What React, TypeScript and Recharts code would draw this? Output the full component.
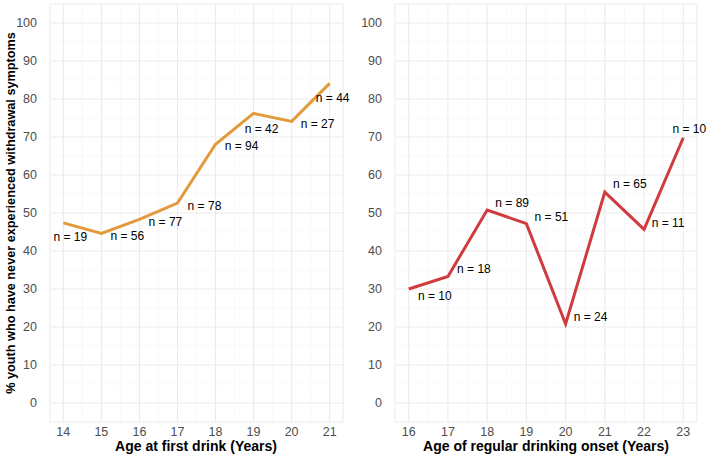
import { LineChart, Line, XAxis, YAxis, CartesianGrid, ReferenceLine, LabelList } from 'recharts'

const ageFirstDrink = [14, 15, 16, 17, 18, 19, 20, 21]
const pctFirstDrink = [47.4, 44.6, 48.3, 52.6, 68.1, 76.2, 74.1, 84.1]
const nFirstDrink = [19, 56, 77, 78, 94, 42, 27, 44]

const ageRegularOnset = [16, 17, 18, 19, 20, 21, 22, 23]
const pctRegularOnset = [30.0, 33.3, 50.8, 47.2, 20.8, 55.5, 45.7, 69.8]
const nRegularOnset = [10, 18, 89, 51, 24, 65, 11, 10]

const yTicks = [0, 10, 20, 30, 40, 50, 60, 70, 80, 90, 100]
const yMinor = [-5, 5, 15, 25, 35, 45, 55, 65, 75, 85, 95, 105]

// label nudges (dx, dy) from each point, repelled labels in the original
const firstNudge = [[7, 14], [26, 2], [26, 3], [27, 3], [26, 2], [8, 16], [26, 3], [3, 15]]
const regularNudge = [[26, 7], [26, -7], [25, -7], [25, -7], [25, -7], [25, -8], [24, -6], [6, -9]]

const FONT = '"Liberation Sans", Arial, Helvetica, sans-serif'
const tickStyle = { fontSize: 12.5, fill: '#4d4d4d', fontFamily: FONT }

const firstData = ageFirstDrink.map((age, i) => ({ age, pct: pctFirstDrink[i], n: nFirstDrink[i] }))
const regularData = ageRegularOnset.map((age, i) => ({ age, pct: pctRegularOnset[i], n: nRegularOnset[i] }))

function nLabel(nudge: number[][]) {
  return (props: any) => {
    const { x, y, index, value } = props
    const [dx, dy] = nudge[index]
    return (
      <text
        x={x + dx}
        y={y + dy}
        textAnchor="middle"
        dominantBaseline="central"
        fontSize={12}
        fontFamily={FONT}
        fill="#000"
      >
        {`n = ${value}`}
      </text>
    )
  }
}

interface PanelProps {
  data: { age: number; pct: number; n: number }[]
  ages: number[]
  color: string
  nudge: number[][]
  width: number
  yAxisWidth: number
  marginRight: number
}

function Panel({ data, ages, color, nudge, width, yAxisWidth, marginRight }: PanelProps) {
  const lo = ages[0] - 0.35
  const hi = ages[ages.length - 1] + 0.35
  const xMinor = [lo, ...ages.map((a) => a + 0.5)]
  return (
    <LineChart width={width} height={457} data={data} margin={{ top: 4, right: marginRight, left: 0, bottom: 0 }}>
      {yMinor.map((v) => (
        <ReferenceLine key={`ym${v}`} y={v} stroke="#f3f3f3" strokeWidth={0.6} />
      ))}
      {xMinor.filter((v) => v > lo && v < hi).map((v) => (
        <ReferenceLine key={`xm${v}`} x={v} stroke="#f3f3f3" strokeWidth={0.6} />
      ))}
      <CartesianGrid stroke="#ebebeb" strokeWidth={1.1} />
      <XAxis
        dataKey="age"
        type="number"
        domain={[lo, hi]}
        ticks={ages}
        allowDataOverflow
        axisLine={false}
        tickLine={false}
        tickSize={0}
        tickMargin={5}
        height={35}
        tick={tickStyle}
      />
      <YAxis
        type="number"
        domain={[-5, 105]}
        ticks={yTicks}
        allowDataOverflow
        axisLine={false}
        tickLine={false}
        tickSize={0}
        tickMargin={13}
        width={yAxisWidth}
        tick={tickStyle}
      />
      <Line
        type="linear"
        dataKey="pct"
        stroke={color}
        strokeWidth={3}
        dot={false}
        activeDot={false}
        isAnimationActive={false}
      >
        <LabelList dataKey="n" content={nLabel(nudge)} />
      </Line>
    </LineChart>
  )
}

const titleStyle = {
  position: 'absolute' as const,
  fontFamily: FONT,
  fontWeight: 700,
  fontSize: 14,
  color: '#000',
  whiteSpace: 'nowrap' as const,
  transform: 'translate(-50%, -50%)',
}

export default function App() {
  return (
    <div style={{ position: 'absolute', left: 0, top: 0, width: 712, height: 457, background: '#fff' }}>
      <div style={{ position: 'absolute', left: 0, top: 0 }}>
        <Panel data={firstData} ages={ageFirstDrink} color="#e39a3d" nudge={firstNudge} width={355} yAxisWidth={50} marginRight={12} />
      </div>
      <div style={{ position: 'absolute', left: 355, top: 0 }}>
        <Panel data={regularData} ages={ageRegularOnset} color="#d13a3e" nudge={regularNudge} width={357} yAxisWidth={40} marginRight={15} />
      </div>
      <div style={{ ...titleStyle, left: 196, top: 446 }}>Age at first drink (Years)</div>
      <div style={{ ...titleStyle, left: 546, top: 446 }}>Age of regular drinking onset (Years)</div>
      <div style={{ ...titleStyle, fontSize: 12.7, left: 11, top: 213, transform: 'translate(-50%, -50%) rotate(-90deg)' }}>
        % youth who have never experienced withdrawal symptoms
      </div>
    </div>
  )
}
